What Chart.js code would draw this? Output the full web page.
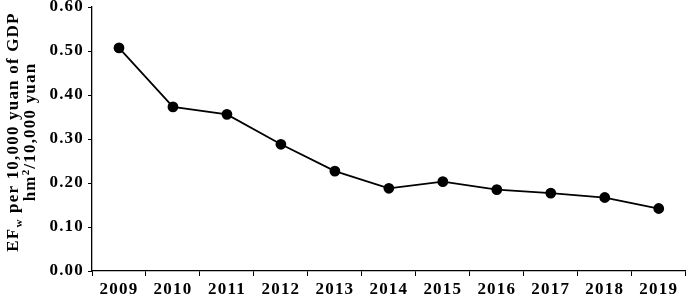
<!DOCTYPE html>
<html>
<head>
<meta charset="utf-8">
<script src="https://cdn.jsdelivr.net/npm/chart.js@4.4.1/dist/chart.umd.min.js"></script>
<style>
  html, body { margin: 0; padding: 0; background: #fff; }
  #wrap { width: 692px; height: 296px; }
</style>
</head>
<body>
<div id="wrap"><canvas id="efChart"></canvas></div>
<script>
// years on the x axis
var years = ['2009', '2010', '2011', '2012', '2013', '2014', '2015', '2016', '2017', '2018', '2019'];
// EFw per 10,000 yuan of GDP (hm2/10,000 yuan)
var efw = [0.507, 0.373, 0.356, 0.288, 0.227, 0.188, 0.203, 0.185, 0.177, 0.167, 0.142];
var yMin = 0, yMax = 0.6, yStep = 0.1;

var serif = '"Liberation Serif", "Times New Roman", serif';
var spacing = '1.2px';

// the picture's bold serif text is a little spread out
var spread = {
    id: 'spread',
    beforeUpdate: function (chart) { chart.ctx.letterSpacing = spacing; },
    beforeDraw: function (chart) { chart.ctx.letterSpacing = spacing; }
};

// draws the rotated two line y title, with the subscript w and superscript 2
var yTitle = {
    id: 'yTitle',
    afterDraw: function (chart) {
        var ctx = chart.ctx;
        var cy = 132;
        ctx.save();
        ctx.fillStyle = '#000';
        ctx.textBaseline = 'middle';
        ctx.letterSpacing = spacing;

        function line(parts, x) {
            var w = 0;
            parts.forEach(function (p) {
                ctx.font = 'bold ' + p.size + 'px ' + serif;
                w += ctx.measureText(p.t).width;
            });
            ctx.save();
            ctx.translate(x, cy);
            ctx.rotate(-Math.PI / 2);
            var pos = -w / 2;
            parts.forEach(function (p) {
                ctx.font = 'bold ' + p.size + 'px ' + serif;
                ctx.textAlign = 'left';
                ctx.fillText(p.t, pos, p.dy);
                pos += ctx.measureText(p.t).width;
            });
            ctx.restore();
        }
        line([{t: 'EF', size: 17, dy: 0}, {t: 'w', size: 11, dy: 5}, {t: ' per 10,000 yuan of GDP', size: 17, dy: 0}], 14);
        line([{t: 'hm', size: 17, dy: 0}, {t: '2', size: 11, dy: -5}, {t: '/10,000 yuan', size: 17, dy: 0}], 31);
        ctx.restore();
    }
};

var efChart = new Chart(document.getElementById('efChart'), {
    type: 'line',
    data: {
        labels: years,
        datasets: [{
            label: 'EFw',
            data: efw,
            borderColor: '#000',
            backgroundColor: '#000',
            borderWidth: 1.8,
            pointRadius: 4.5,
            pointHoverRadius: 4.5,
            pointBackgroundColor: '#000',
            pointBorderColor: '#000',
            tension: 0,
            fill: false
        }]
    },
    options: {
        responsive: true,
        maintainAspectRatio: false,
        animation: false,
        layout: { padding: { top: 7, right: 2, left: 0, bottom: 0 } },
        plugins: {
            legend: { display: false },
            tooltip: { enabled: false }
        },
        scales: {
            x: {
                offset: true,
                grid: {
                    offset: true,
                    drawOnChartArea: false,
                    drawTicks: true,
                    tickLength: 5,
                    color: '#000',
                    tickColor: '#000'
                },
                border: { color: '#000', width: 1.3 },
                ticks: {
                    color: '#000',
                    padding: 3,
                    maxRotation: 0,
                    font: { family: serif, size: 17, weight: 'bold' }
                },
                afterFit: function (scale) {
                    scale.height = 25;
                    scale.paddingLeft = 0;
                    scale.paddingRight = 0;
                }
            },
            y: {
                min: yMin,
                max: yMax,
                grid: {
                    drawOnChartArea: false,
                    drawTicks: true,
                    tickLength: 4,
                    color: '#000',
                    tickColor: '#000'
                },
                border: { color: '#000', width: 1.3 },
                ticks: {
                    stepSize: yStep,
                    color: '#000',
                    padding: 4,
                    font: { family: serif, size: 17, weight: 'bold' },
                    callback: function (v) { return v.toFixed(2); }
                },
                afterFit: function (scale) {
                    scale.width = 92;
                    scale.paddingTop = 0;
                    scale.paddingBottom = 0;
                }
            }
        }
    },
    plugins: [spread, yTitle]
});
</script>
</body>
</html>
